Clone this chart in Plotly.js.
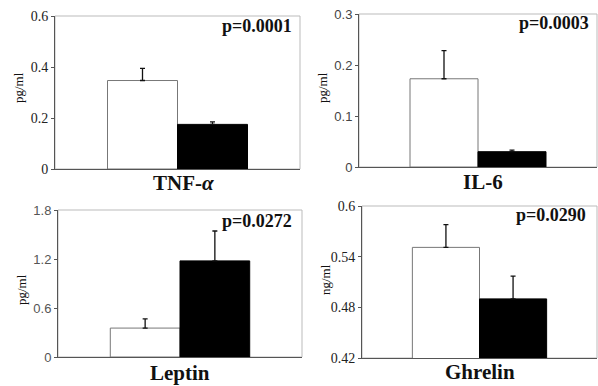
<!DOCTYPE html>
<html>
<head>
<meta charset="utf-8">
<script src="https://cdn.plot.ly/plotly-3.0.1.min.js"></script>
<style>html,body{margin:0;padding:0;background:#fff}#chart{width:598px;height:386px}</style>
</head>
<body>
<div id="chart"></div>
<script>
// Data
const groups = ["Group 1", "Group 2"];
const tnfMean = [0.347, 0.175];
const tnfSem = [0.048, 0.010];
const il6Mean = [0.173, 0.030];
const il6Sem = [0.055, 0.003];
const leptinMean = [0.354, 1.177];
const leptinSem = [0.114, 0.366];
const ghrelinMean = [0.551, 0.490];
const ghrelinSem = [0.027, 0.027];

const panelTitles = ["TNF-<i>α</i>", "IL-6", "Leptin", "Ghrelin"];
const pValues = ["p=0.0001", "p=0.0003", "p=0.0272", "p=0.0290"];
const unitLabels = ["pg/ml", "pg/ml", "pg/ml", "ng/ml"];
const tnfTicks = [0, 0.2, 0.4, 0.6];
const il6Ticks = [0, 0.1, 0.2, 0.3];
const leptinTicks = [0, 0.6, 1.2, 1.8];
const ghrelinTicks = [0.42, 0.48, 0.54, 0.6];
const tnfTickText = ["0", "0.2", "0.4", "0.6"];
const il6TickText = ["0", "0.1", "0.2", "0.3"];
const leptinTickText = ["0", "0.6", "1.2", "1.8"];
const ghrelinTickText = ["0.42", "0.48", "0.54", "0.6"];

const W = 598, H = 386;
const serif = "'Liberation Serif', 'Times New Roman', serif";
const sans = "'Liberation Sans', Arial, sans-serif";

// pixel boxes [x0, x1, y0, y1]
const boxes = [
  [55, 300, 16, 169],
  [359, 597, 14, 167],
  [58, 302, 210, 357],
  [362, 597, 206, 358]
];
const means = [tnfMean, il6Mean, leptinMean, ghrelinMean];
const sems = [tnfSem, il6Sem, leptinSem, ghrelinSem];
const ticks = [tnfTicks, il6Ticks, leptinTicks, ghrelinTicks];
const tickTexts = [tnfTickText, il6TickText, leptinTickText, ghrelinTickText];
const ranges = [[0, 0.6], [0, 0.3], [0, 1.8], [0.42, 0.6]];
const tickFonts = [
  {family: serif, size: 14, color: "#222"},
  {family: sans, size: 13, color: "#444"},
  {family: sans, size: 13, color: "#555"},
  {family: serif, size: 14, color: "#222"}
];
const xlabelPos = [[183, 183], [483, 182], [180, 373], [480, 372]];
const pPos = [[294, 26], [591, 23], [294, 221], [588, 215]];
const unitPos = [[18, 88], [322, 88], [21, 290], [325, 280]];

const traces = [];
const layout = {
  width: W, height: H,
  margin: {l: 0, r: 0, t: 0, b: 0},
  paper_bgcolor: "#fff", plot_bgcolor: "#fff",
  showlegend: false,
  bargap: 0,
  annotations: [],
  shapes: []
};

for (let i = 0; i < 4; i++) {
  const s = i === 0 ? "" : String(i + 1);
  const b = boxes[i];
  const mean = means[i];
  traces.push({
    type: "bar",
    x: groups,
    y: mean,
    xaxis: "x" + s, yaxis: "y" + s,
    width: 1,
    marker: {color: ["#ffffff", "#000000"], line: {color: ["#777", "#000"], width: 1}},
    error_y: {
      type: "data", symmetric: false,
      array: sems[i], arrayminus: [0, 0],
      color: "#111", thickness: 1.3, width: 2.5
    },
    hoverinfo: "skip"
  });
  layout["xaxis" + s] = {
    domain: [b[0] / W, b[1] / W],
    anchor: "y" + s,
    type: "category",
    range: [-1.25, 2.25],
    showticklabels: false, ticks: "",
    showgrid: false, zeroline: false,
    showline: true, linecolor: "#555", linewidth: 1,
    fixedrange: true
  };
  layout["yaxis" + s] = {
    domain: [(H - b[3]) / H, (H - b[2]) / H],
    anchor: "x" + s,
    range: ranges[i],
    tickvals: ticks[i], ticktext: tickTexts[i],
    ticks: "outside", ticklen: 3, tickcolor: "#555",
    tickfont: tickFonts[i],
    showgrid: false, zeroline: false,
    showline: true, linecolor: "#555", linewidth: 1,
    automargin: false, fixedrange: true
  };
  layout.shapes.push({
    type: "rect", xref: "x" + s + " domain", yref: "y" + s + " domain",
    x0: 0, x1: 1, y0: 0, y1: 1,
    line: {color: "#bbb", width: 1}, layer: "below"
  });
  layout.annotations.push({
    text: "<b>" + panelTitles[i] + "</b>",
    xref: "paper", yref: "paper",
    x: xlabelPos[i][0] / W, y: 1 - xlabelPos[i][1] / H,
    xanchor: "center", yanchor: "middle", showarrow: false,
    font: {family: serif, size: 21, color: "#111"}
  });
  layout.annotations.push({
    text: "<b>" + pValues[i] + "</b>",
    xref: "paper", yref: "paper",
    x: pPos[i][0] / W, y: 1 - pPos[i][1] / H,
    xanchor: "right", yanchor: "middle", showarrow: false,
    font: {family: serif, size: 18, color: "#111"}
  });
  layout.annotations.push({
    text: unitLabels[i],
    xref: "paper", yref: "paper",
    x: unitPos[i][0] / W, y: 1 - unitPos[i][1] / H,
    xanchor: "center", yanchor: "middle", showarrow: false,
    textangle: -90,
    font: {family: serif, size: 13, color: "#111"}
  });
}

Plotly.newPlot("chart", traces, layout, {staticPlot: true, displayModeBar: false});
</script>
</body>
</html>
